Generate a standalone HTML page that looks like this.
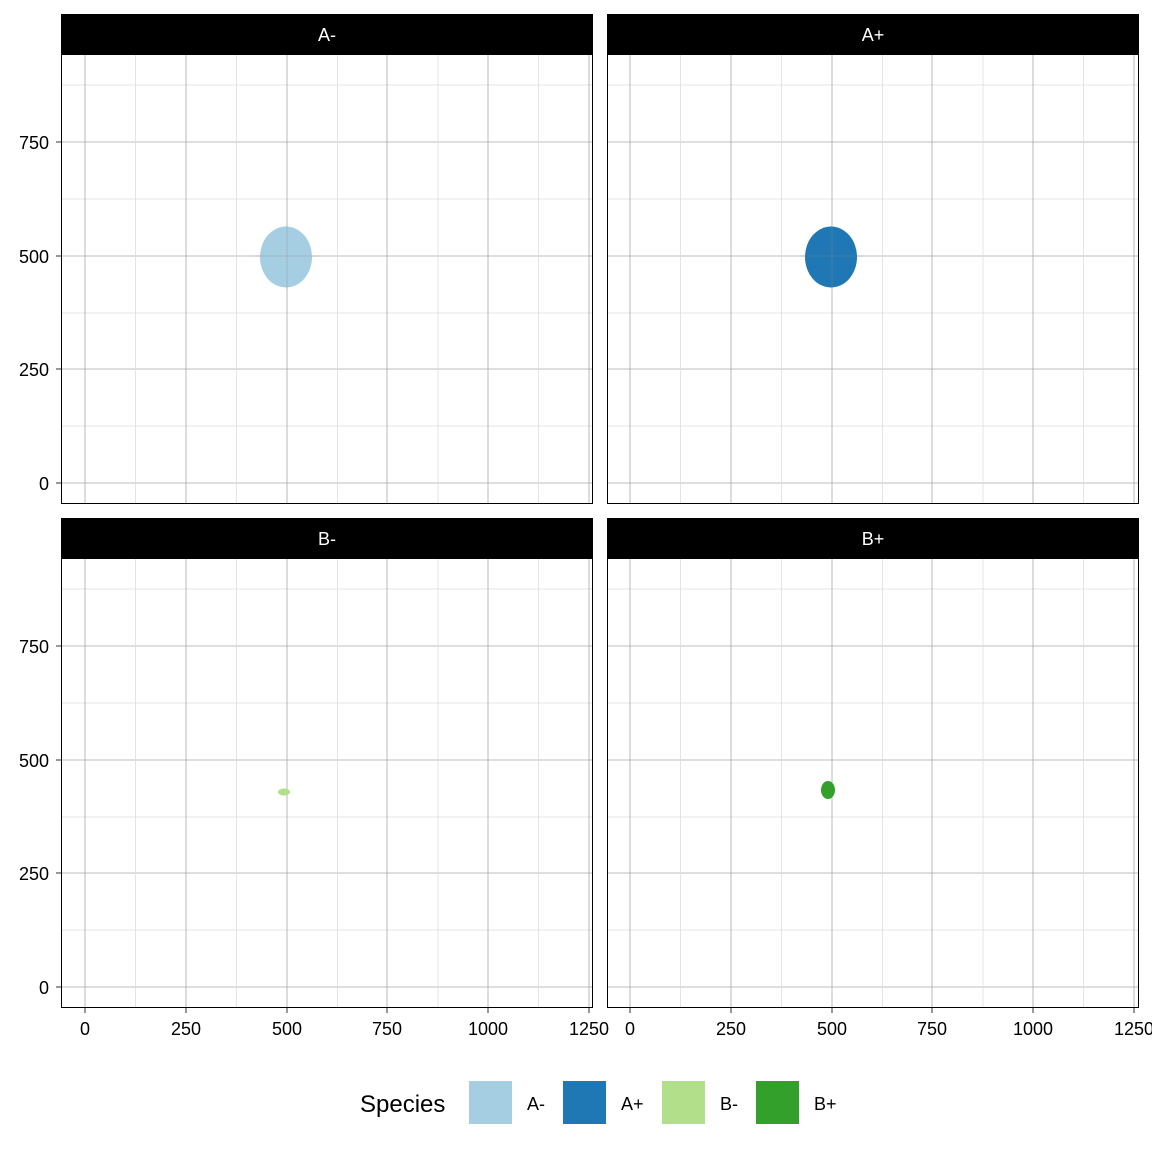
<!DOCTYPE html>
<html><head><meta charset="utf-8"><style>body{margin:0;background:#fff}svg{display:block}</style></head><body>
<svg width="1152" height="1152" xmlns="http://www.w3.org/2000/svg" font-family="Liberation Sans, sans-serif">
<defs>
<g id="grid">
<g stroke="#dedede" stroke-width="0.8">
<line x1="135.5" y1="0" x2="135.5" y2="449"/><line x1="236.5" y1="0" x2="236.5" y2="449"/><line x1="337.5" y1="0" x2="337.5" y2="449"/><line x1="438" y1="0" x2="438" y2="449"/><line x1="538.5" y1="0" x2="538.5" y2="449"/>
</g>
<g stroke="#a8a8a8" stroke-width="0.8">
<line x1="85" y1="0" x2="85" y2="449"/><line x1="186" y1="0" x2="186" y2="449"/><line x1="287" y1="0" x2="287" y2="449"/><line x1="387" y1="0" x2="387" y2="449"/><line x1="488" y1="0" x2="488" y2="449"/><line x1="589" y1="0" x2="589" y2="449"/>
</g>
</g>
<g id="hgrid">
<g stroke="#dedede" stroke-width="0.8">
<line x1="0" x2="531" y1="372" y2="372"/><line x1="0" x2="531" y1="259" y2="259"/><line x1="0" x2="531" y1="145" y2="145"/><line x1="0" x2="531" y1="31" y2="31"/>
</g>
<g stroke="#a8a8a8" stroke-width="0.8">
<line x1="0" x2="531" y1="429" y2="429"/><line x1="0" x2="531" y1="315" y2="315"/><line x1="0" x2="531" y1="202" y2="202"/><line x1="0" x2="531" y1="88" y2="88"/>
</g>
</g>
</defs>
<g transform="translate(61,54)"><use href="#hgrid"/></g>
<g transform="translate(0,54)"><use href="#grid"/></g>
<g transform="translate(607,54)"><use href="#hgrid"/></g>
<g transform="translate(545,54)"><use href="#grid"/></g>
<g transform="translate(61,558)"><use href="#hgrid"/></g>
<g transform="translate(0,558)"><use href="#grid"/></g>
<g transform="translate(607,558)"><use href="#hgrid"/></g>
<g transform="translate(545,558)"><use href="#grid"/></g>
<ellipse cx="286" cy="257" rx="26" ry="30.5" fill="#a6cee3"/>
<ellipse cx="831" cy="257" rx="26" ry="30.5" fill="#1f78b4"/>
<ellipse cx="284" cy="792" rx="6" ry="3.5" fill="#b2df8a"/>
<ellipse cx="828" cy="790" rx="7" ry="9" fill="#33a02c"/>
<g stroke="#888" stroke-width="0.6" opacity="0.6">
<line x1="287" x2="287" y1="226" y2="289"/><line x1="255" x2="318" y1="256" y2="256"/>
<line x1="832" x2="832" y1="226" y2="289"/><line x1="800" x2="863" y1="256" y2="256"/>
</g>
<g fill="none" stroke="#000" stroke-width="1">
<rect x="61.5" y="54.5" width="531" height="449"/><rect x="607.5" y="54.5" width="531" height="449"/>
<rect x="61.5" y="558.5" width="531" height="449"/><rect x="607.5" y="558.5" width="531" height="449"/>
</g>
<rect x="61" y="14" width="532" height="40" fill="#000"/><rect x="607" y="14" width="532" height="40" fill="#000"/>
<rect x="61" y="518" width="532" height="40" fill="#000"/><rect x="607" y="518" width="532" height="40" fill="#000"/>
<g fill="#fff" font-size="18" text-anchor="middle">
<text x="327" y="41">A-</text><text x="873" y="41">A+</text><text x="327" y="545">B-</text><text x="873" y="545">B+</text>
</g>
<g stroke="#333" stroke-width="1">
<line x1="56" x2="61" y1="483" y2="483"/><line x1="56" x2="61" y1="369" y2="369"/><line x1="56" x2="61" y1="256" y2="256"/><line x1="56" x2="61" y1="142" y2="142"/>
<line x1="56" x2="61" y1="987" y2="987"/><line x1="56" x2="61" y1="873" y2="873"/><line x1="56" x2="61" y1="760" y2="760"/><line x1="56" x2="61" y1="646" y2="646"/>
<line x1="85" x2="85" y1="1008" y2="1013"/><line x1="186" x2="186" y1="1008" y2="1013"/><line x1="287" x2="287" y1="1008" y2="1013"/><line x1="387" x2="387" y1="1008" y2="1013"/><line x1="488" x2="488" y1="1008" y2="1013"/><line x1="589" x2="589" y1="1008" y2="1013"/>
<line x1="630" x2="630" y1="1008" y2="1013"/><line x1="731" x2="731" y1="1008" y2="1013"/><line x1="832" x2="832" y1="1008" y2="1013"/><line x1="932" x2="932" y1="1008" y2="1013"/><line x1="1033" x2="1033" y1="1008" y2="1013"/><line x1="1134" x2="1134" y1="1008" y2="1013"/>
</g>
<g fill="#000" font-size="18" text-anchor="end">
<text x="49" y="490">0</text><text x="49" y="376">250</text><text x="49" y="263">500</text><text x="49" y="149">750</text>
<text x="49" y="994">0</text><text x="49" y="880">250</text><text x="49" y="767">500</text><text x="49" y="653">750</text>
</g>
<g fill="#000" font-size="18" text-anchor="middle">
<text x="85" y="1035">0</text><text x="186" y="1035">250</text><text x="287" y="1035">500</text><text x="387" y="1035">750</text><text x="488" y="1035">1000</text><text x="589" y="1035">1250</text>
<text x="630" y="1035">0</text><text x="731" y="1035">250</text><text x="832" y="1035">500</text><text x="932" y="1035">750</text><text x="1033" y="1035">1000</text><text x="1134" y="1035">1250</text>
</g>
<text x="360" y="1112" font-size="24" fill="#000">Species</text>
<rect x="469" y="1081" width="43" height="43" fill="#a6cee3"/>
<rect x="563" y="1081" width="43" height="43" fill="#1f78b4"/>
<rect x="662" y="1081" width="43" height="43" fill="#b2df8a"/>
<rect x="756" y="1081" width="43" height="43" fill="#33a02c"/>
<g font-size="18" fill="#000">
<text x="527" y="1110">A-</text><text x="621" y="1110">A+</text><text x="720" y="1110">B-</text><text x="814" y="1110">B+</text>
</g>
</svg>
</body></html>
